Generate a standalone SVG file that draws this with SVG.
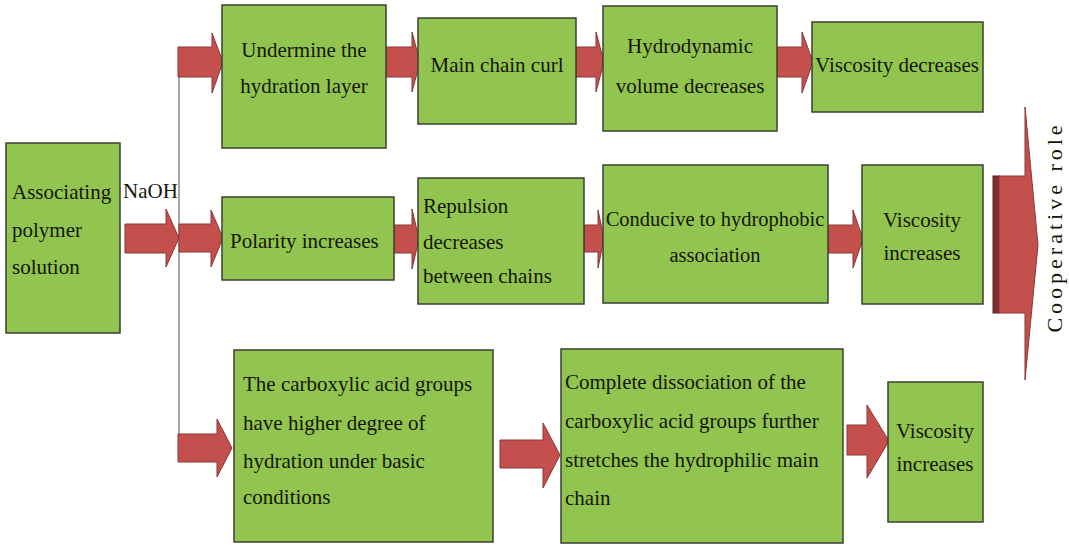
<svg xmlns="http://www.w3.org/2000/svg" width="1069" height="545" viewBox="0 0 1069 545">
<style>
.box{fill:#92c54f;stroke:#3b3f33;stroke-width:1.5}
.arr{fill:#c4504d;stroke:#8a3634;stroke-width:1}
.t{font-family:"Liberation Serif",serif;font-size:21px;fill:#141608}
.c{text-anchor:middle}
</style>
<rect width="1069" height="545" fill="#ffffff"/>
<g id="connectors">
<line x1="179" y1="62" x2="179" y2="448" stroke="#8a8a8a" stroke-width="1.5"/>
<polygon class="arr" points="178,47 212,47 212,33 223,62 212,93 212,77 178,77"/>
<polygon class="arr" points="386,47 412,47 412,32 420,62 412,92 412,77 386,77"/>
<polygon class="arr" points="576,47 596,47 596,32 604,62 596,92 596,77 576,77"/>
<polygon class="arr" points="777,47 802,47 802,32 813,62 802,93 802,77 777,77"/>
<polygon class="arr" points="125,224 166,224 166,209 179,238 166,267 166,253 125,253"/>
<polygon class="arr" points="179,224 211,224 211,210 223,238 211,267 211,252 179,252"/>
<polygon class="arr" points="394,225 412,225 412,209 419,239 412,269 412,253 394,253"/>
<polygon class="arr" points="584,225 598,225 598,210 604,239 598,268 598,252 584,252"/>
<polygon class="arr" points="828,225 853,225 853,210 863,239 853,268 853,253 828,253"/>
<polygon class="arr" points="178,434 217,434 217,419 232,448 217,477 217,462 178,462"/>
<polygon class="arr" points="500,440 543,440 543,423 560,455 543,488 543,468 500,468"/>
<polygon class="arr" points="847,425 867,425 867,405 889,441 867,478 867,455 847,455"/>
</g>
<g id="cooperative">
<rect x="993" y="176" width="7" height="137" fill="#7c2f2e" stroke="#5a2322" stroke-width="1"/>
<polygon class="arr" points="999,176 1025,176 1025,107 1038,245 1025,380 1025,313 999,313"/>
<text class="t" transform="translate(1062,227) rotate(-90)" text-anchor="middle" style="font-size:22px;letter-spacing:4px">Cooperative role</text>
</g>
<g id="n-assoc">
<rect class="box" x="6" y="143" width="114" height="190"/>
<text class="t" x="12" y="199">Associating</text>
<text class="t" x="12" y="237">polymer</text>
<text class="t" x="12" y="274">solution</text>
</g>
<g id="naoh"><text class="t" x="123" y="198">NaOH</text></g>
<g id="n-undermine">
<rect class="box" x="222" y="5" width="164" height="143"/>
<text class="t c" x="304" y="57">Undermine the</text>
<text class="t c" x="304" y="93">hydration layer</text>
</g>
<g id="n-curl">
<rect class="box" x="418" y="18" width="158" height="106"/>
<text class="t c" x="497" y="72">Main chain curl</text>
</g>
<g id="n-hydro">
<rect class="box" x="603" y="6" width="174" height="125"/>
<text class="t c" x="690" y="53">Hydrodynamic</text>
<text class="t c" x="690" y="93">volume decreases</text>
</g>
<g id="n-visdec">
<rect class="box" x="812" y="22" width="171" height="90"/>
<text class="t c" x="897" y="72">Viscosity decreases</text>
</g>
<g id="n-polarity">
<rect class="box" x="222" y="197" width="172" height="83"/>
<text class="t" x="230" y="248">Polarity increases</text>
</g>
<g id="n-repulsion">
<rect class="box" x="418" y="178" width="166" height="126"/>
<text class="t" x="423" y="213">Repulsion</text>
<text class="t" x="423" y="249">decreases</text>
<text class="t" x="423" y="283">between chains</text>
</g>
<g id="n-conducive">
<rect class="box" x="603" y="165" width="225" height="138"/>
<text class="t c" x="715" y="226" style="font-size:20.5px">Conducive to hydrophobic</text>
<text class="t c" x="715" y="262" style="font-size:20.5px">association</text>
</g>
<g id="n-visinc1">
<rect class="box" x="862" y="165" width="121" height="139"/>
<text class="t c" x="922" y="227">Viscosity</text>
<text class="t c" x="922" y="260">increases</text>
</g>
<g id="n-carboxylic">
<rect class="box" x="234" y="350" width="259" height="192"/>
<text class="t" x="243" y="391">The carboxylic acid groups</text>
<text class="t" x="243" y="430">have higher degree of</text>
<text class="t" x="243" y="468">hydration under basic</text>
<text class="t" x="243" y="504">conditions</text>
</g>
<g id="n-complete">
<rect class="box" x="561" y="349" width="282" height="194"/>
<text class="t" x="565" y="389">Complete dissociation of the</text>
<text class="t" x="565" y="428">carboxylic acid groups further</text>
<text class="t" x="565" y="467">stretches the hydrophilic main</text>
<text class="t" x="565" y="505">chain</text>
</g>
<g id="n-visinc2">
<rect class="box" x="888" y="382" width="95" height="140"/>
<text class="t c" x="935" y="438">Viscosity</text>
<text class="t c" x="935" y="471">increases</text>
</g>
</svg>
